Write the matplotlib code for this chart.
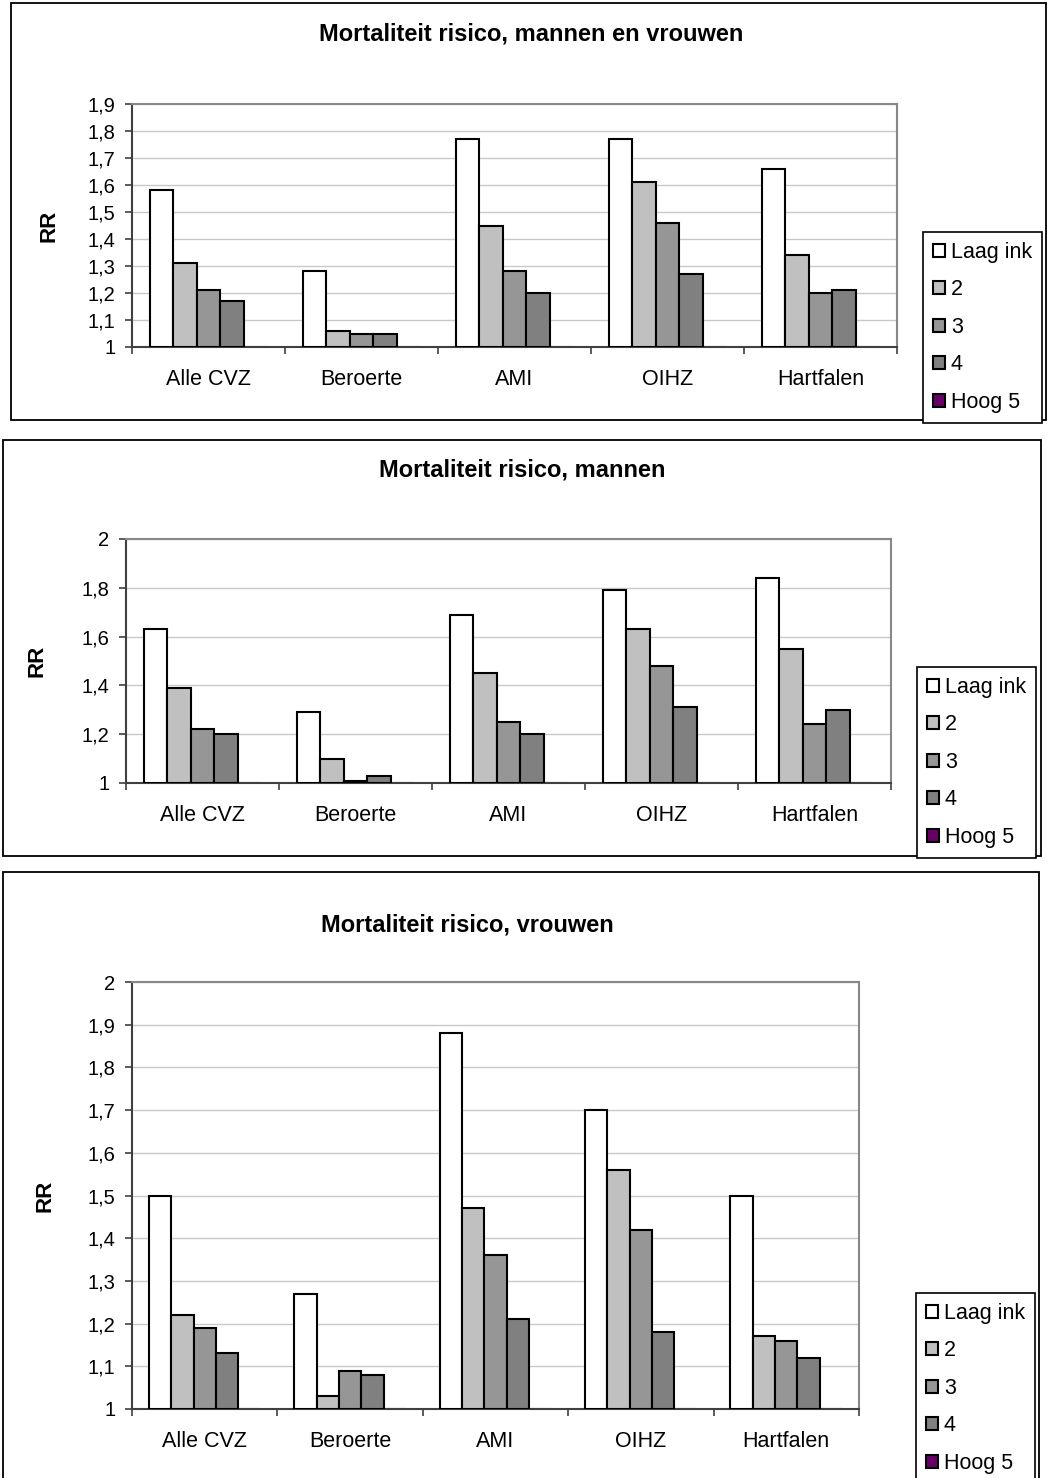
import matplotlib
matplotlib.use("Agg")
import matplotlib.pyplot as plt
from matplotlib.patches import Rectangle
import numpy as np

plt.rcParams['font.family'] = ['Liberation Sans', 'DejaVu Sans']

categories = ["Alle CVZ", "Beroerte", "AMI", "OIHZ", "Hartfalen"]
series_labels = ["Laag ink", "2", "3", "4", "Hoog 5"]

# Mortaliteit risico, mannen en vrouwen
mv_laag = [1.58, 1.28, 1.77, 1.77, 1.66]
mv_2 = [1.31, 1.06, 1.45, 1.61, 1.34]
mv_3 = [1.21, 1.05, 1.28, 1.46, 1.20]
mv_4 = [1.17, 1.05, 1.20, 1.27, 1.21]
mv_hoog = [1.0, 1.0, 1.0, 1.0, 1.0]

# Mortaliteit risico, mannen
m_laag = [1.63, 1.29, 1.69, 1.79, 1.84]
m_2 = [1.39, 1.10, 1.45, 1.63, 1.55]
m_3 = [1.22, 1.01, 1.25, 1.48, 1.24]
m_4 = [1.20, 1.03, 1.20, 1.31, 1.30]
m_hoog = [1.0, 1.0, 1.0, 1.0, 1.0]

# Mortaliteit risico, vrouwen
v_laag = [1.50, 1.27, 1.88, 1.70, 1.50]
v_2 = [1.22, 1.03, 1.47, 1.56, 1.17]
v_3 = [1.19, 1.09, 1.36, 1.42, 1.16]
v_4 = [1.13, 1.08, 1.21, 1.18, 1.12]
v_hoog = [1.0, 1.0, 1.0, 1.0, 1.0]

colors = ["#FFFFFF", "#C0C0C0", "#969696", "#808080", "#660066"]

W, H = 1049, 1478
fig = plt.figure(figsize=(W / 100, H / 100), dpi=100)


def fx(x):
    return x / W


def fy(y):
    return 1 - y / H


def frame(l, t, r, b):
    fig.add_artist(Rectangle((fx(l), fy(b)), fx(r) - fx(l), fy(t) - fy(b),
                             transform=fig.transFigure, fill=False,
                             edgecolor="black", linewidth=1.3, zorder=0))


def fmt(v):
    s = ("%.1f" % v).rstrip("0").rstrip(".")
    return s.replace(".", ",")


def panel(data, title, title_xy, frame_box, ax_box, ymax, ystep, ylab_x,
          legend_box):
    frame(*frame_box)
    l, t, r, b = ax_box
    ax = fig.add_axes([fx(l), fy(b), fx(r) - fx(l), fy(t) - fy(b)])
    n = len(categories)
    x = np.arange(n)
    w = 1 / 6.5
    handles = []
    for j, (vals, c, lab) in enumerate(zip(data, colors, series_labels)):
        vals = np.asarray(vals)
        h = ax.bar(x + (j - 2) * w, vals - 1, bottom=1, width=w, color=c,
                   edgecolor="black", linewidth=1.5, label=lab,
                   zorder=3 if j < 4 else 2)
        handles.append(h)
    ax.set_xlim(-0.5, n - 0.5)
    ax.set_ylim(1, ymax)
    yt = np.round(np.arange(1, ymax + 1e-9, ystep), 2)
    ax.set_yticks(yt)
    ax.set_yticklabels([fmt(v) for v in yt], fontsize=14.5)
    ax.set_xticks(x)
    ax.set_xticklabels(categories, fontsize=15.5)
    ax.set_xticks(np.arange(-0.5, n, 1), minor=True)
    ax.tick_params(axis="x", which="major", length=0, pad=16)
    ax.tick_params(axis="x", which="minor", length=5, width=1.2, color="#404040")
    ax.tick_params(axis="y", length=5, width=1.2, color="#404040", pad=7)
    ax.yaxis.grid(True, color="#C8C8C8", linewidth=1.0, zorder=0)
    ax.set_axisbelow(True)
    for s in ["left", "bottom"]:
        ax.spines[s].set_color("#404040")
        ax.spines[s].set_linewidth(1.5)
        ax.spines[s].set_zorder(2.5)
    for s in ["top", "right"]:
        ax.spines[s].set_color("#888888")
        ax.spines[s].set_linewidth(1.5)
    ax.set_ylabel("RR", fontsize=16, fontweight="bold")
    ax.yaxis.set_label_coords((ylab_x - l) / (r - l), 0.5)
    fig.text(fx(title_xy[0]), fy(title_xy[1]), title, fontsize=17,
             fontweight="bold", ha="center", va="center")
    ll, lt = legend_box
    leg = fig.legend(handles=handles, labels=series_labels, loc="upper left",
                     bbox_to_anchor=(fx(ll), fy(lt)), fontsize=15.5,
                     frameon=True, fancybox=False, framealpha=1,
                     edgecolor="black", handlelength=0.55, handleheight=0.55,
                     handletextpad=0.3, labelspacing=0.77, borderpad=0.45,
                     borderaxespad=0)
    leg.get_frame().set_linewidth(1.2)
    return ax


panel([mv_laag, mv_2, mv_3, mv_4, mv_hoog],
      "Mortaliteit risico, mannen en vrouwen", (531, 34),
      (11, 3, 1046, 420), (132, 104, 897, 347), 1.9, 0.1, 60,
      (923, 232))
panel([m_laag, m_2, m_3, m_4, m_hoog],
      "Mortaliteit risico, mannen", (522, 470),
      (3, 440, 1041, 856), (126, 539, 891, 783), 2.0, 0.2, 48,
      (917, 667))
panel([v_laag, v_2, v_3, v_4, v_hoog],
      "Mortaliteit risico, vrouwen", (467, 925),
      (3, 872, 1039, 1490), (132, 982, 859, 1409), 2.0, 0.1, 55,
      (916, 1293))

fig.savefig("out.png", dpi=100)
